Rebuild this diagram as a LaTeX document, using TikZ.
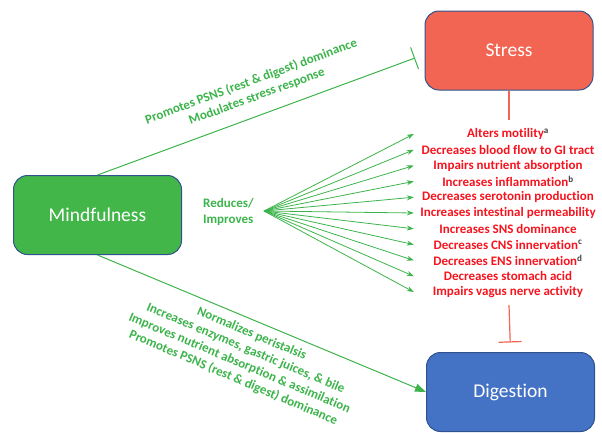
\documentclass[tikz,border=0pt]{standalone}
\usepackage{fontspec}
\setmainfont[Ligatures=NoCommon]{Carlito}
\usepackage{tikz}
\usetikzlibrary{arrows.meta}
\usepackage{xcolor}

\definecolor{mindgreen}{RGB}{67,182,74}
\definecolor{stressred}{RGB}{242,101,82}
\definecolor{digblue}{RGB}{68,114,196}
\definecolor{boxline}{RGB}{47,82,143}
\definecolor{notegreen}{RGB}{60,180,75}
\definecolor{effred}{RGB}{245,20,30}
\newcommand{\effmark}[1]{\textsuperscript{\textcolor{black!75}{#1}}}

\tikzset{
  box/.style={draw=boxline,line width=1pt,rounded corners=14pt,minimum width=168pt,minimum height=79pt,text=white,font=\fontsize{19.5}{23}\selectfont},
  effect/.style={text=effred,font=\fontsize{13}{15.8}\selectfont\bfseries,minimum width=188pt,inner sep=0pt},
  note/.style={text=notegreen,font=\fontsize{13}{15.9}\selectfont\bfseries,align=center,inner sep=0pt},
  greenline/.style={draw=notegreen,line width=1pt},
  redline/.style={draw=stressred,line width=1.2pt},
}

\begin{document}
\begin{tikzpicture}[x=1pt,y=-1pt,>={Stealth[length=7pt,width=5pt]}]
\useasboundingbox (0,0) rectangle (602,432);
\node[box,fill=mindgreen] (mind) at (97.5,215) {Mindfulness};
\node[box,fill=stressred] (stress) at (509,50.5) {Stress};
\node[box,fill=digblue] (dig) at (510.5,392) {Digestion};

% mindfulness -| stress
\coordinate (calm) at (415,58);
\draw[greenline,-{Bar[width=23pt]}] (mind.north) -- (calm);
\node[note,rotate=20.26] (calmtxt) at (254,89) {Promotes PSNS (rest \& digest) dominance\\Modulates stress response};

% mindfulness -> digestion
\draw[greenline,-{Triangle[length=11pt,width=8pt]}] (mind.south) -- (dig.west);
\node[note,rotate=-22.86] (digtxt) at (242.5,356) {Normalizes peristalsis\\Increases enzymes, gastric juices, \& bile\\Improves nutrient absorption \& assimilation\\Promotes PSNS (rest \& digest) dominance};

% fan of effects
\node[note,anchor=west,align=left,font=\fontsize{13}{16.5}\selectfont\bfseries] (reduce) at (203,212) {Reduces/\\Improves};
\coordinate (fan) at (264,211);
\foreach \txt [count=\i] in {Alters motility\effmark{a},Decreases blood flow to GI tract,Impairs nutrient absorption,Increases inflammation\effmark{b},Decreases serotonin production,Increases intestinal permeability,Increases SNS dominance,Decreases CNS innervation\effmark{c},Decreases ENS innervation\effmark{d},Decreases stomach acid,Impairs vagus nerve activity}
{
  \node[effect] (e\i) at (508,{134+15.8*(\i-1)}) {\txt};
  \draw[greenline,line width=0.8pt,->] (fan) -- (e\i.west);
}

% stress -| digestion
\coordinate (listtop) at (509,120);
\coordinate (listbot) at (509,305);
\draw[redline] (stress.south) -- (listtop);
\draw[redline,-{Bar[width=23pt]},shorten >=9.5pt] (listbot) -- (dig.north);
\end{tikzpicture}
\end{document}
